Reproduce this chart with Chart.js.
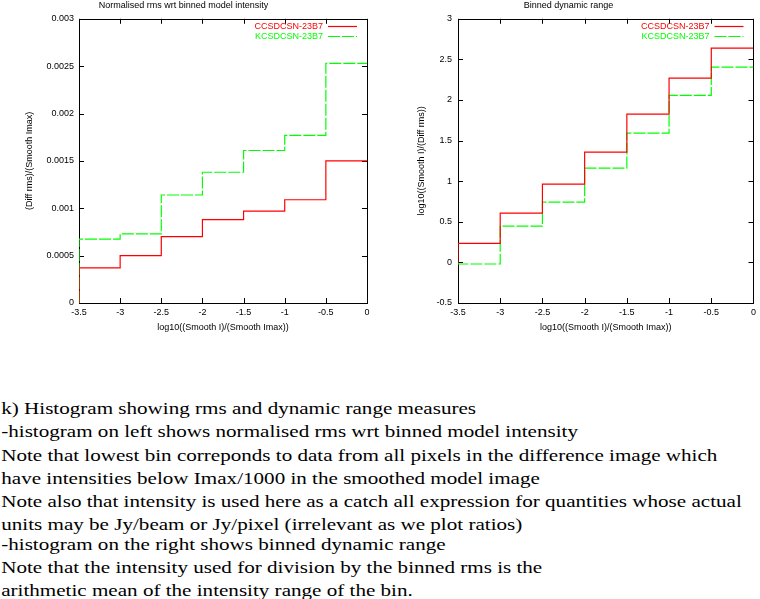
<!DOCTYPE html>
<html>
<head>
<meta charset="utf-8">
<script src="https://cdn.jsdelivr.net/npm/chart.js@4"></script>
<style>
  body { margin: 0; background: #fff; width: 760px; height: 599px; overflow: hidden; position: relative; }
  .box { position: absolute; top: 0; width: 380px; height: 340px; }
  #notes { position: absolute; left: 0; top: 0; transform: scaleX(1.24); transform-origin: 0 0; }
  #notes div { position: absolute; left: 1px; font-family: "Liberation Serif", serif; font-size: 17px;
               line-height: 20px; white-space: nowrap; color: #000; }
</style>
</head>
<body>
<div class="box" style="left:0"><canvas id="rmsChart"></canvas></div>
<div class="box" style="left:380px"><canvas id="drChart"></canvas></div>
<div id="notes"></div>
<script>
// bin edges along log10(I/Imax), one value per bin
var binEdges = [-3.5, -3, -2.5, -2, -1.5, -1, -0.5, 0];
var seriesNames = ['CCSDCSN-23B7', 'KCSDCSN-23B7'];

// left: normalised rms
var rmsCCS = [0.00037, 0.0005, 0.0007, 0.00088, 0.00097, 0.00109, 0.0015];
var rmsKCS = [0.000675, 0.00073, 0.00114, 0.00138, 0.00161, 0.00177, 0.00253];

// right: binned dynamic range
var drCCS = [0.235, 0.607, 0.964, 1.358, 1.826, 2.269, 2.638];
var drKCS = [-0.02, 0.447, 0.743, 1.161, 1.592, 2.056, 2.405];

var noteLines = [
  'k) Histogram showing rms and dynamic range measures',
  '-histogram on left shows normalised rms wrt binned model intensity',
  'Note that lowest bin correponds to data from all pixels in the difference image which',
  'have intensities below Imax/1000 in the smoothed model image',
  'Note also that intensity is used here as a catch all expression for quantities whose actual',
  'units may be Jy/beam or Jy/pixel (irrelevant as we plot ratios)',
  '-histogram on the right shows binned dynamic range',
  'Note that the intensity used for division by the binned rms is the',
  'arithmetic mean of the intensity range of the bin.'
];
var noteCentres = [409, 432, 456, 479, 502, 525, 545, 568, 591];

// gnuplot "histeps" style: rise from 0 at the first edge, then one step per bin
function histSteps(values) {
  var pts = [{ x: binEdges[0], y: 0 }];
  for (var i = 0; i < values.length; i++) {
    pts.push({ x: binEdges[i], y: values[i] });
  }
  pts.push({ x: binEdges[binEdges.length - 1], y: values[values.length - 1] });
  return pts;
}

Chart.defaults.color = '#000';
Chart.defaults.font.family = '"Liberation Sans", Arial, sans-serif';
Chart.defaults.font.size = 9;

// box round the plot with inward ticks on all four sides, plus gnuplot-like key
var gnuplotFrame = {
  id: 'gnuplotFrame',
  beforeDatasetsDraw: function(chart) {
    var ctx = chart.ctx, a = chart.chartArea;
    var xs = chart.scales.x, ys = chart.scales.y;
    ctx.save();
    ctx.strokeStyle = '#000';
    ctx.lineWidth = 1;
    ctx.strokeRect(Math.round(a.left) + 0.5, Math.round(a.top) + 0.5,
                   Math.round(a.right - a.left), Math.round(a.bottom - a.top));
    ctx.beginPath();
    xs.ticks.forEach(function(t) {
      var px = Math.round(xs.getPixelForValue(t.value)) + 0.5;
      ctx.moveTo(px, a.bottom); ctx.lineTo(px, a.bottom - 5);
      ctx.moveTo(px, a.top); ctx.lineTo(px, a.top + 5);
    });
    ys.ticks.forEach(function(t) {
      var py = Math.round(ys.getPixelForValue(t.value)) + 0.5;
      ctx.moveTo(a.left, py); ctx.lineTo(a.left + 5, py);
      ctx.moveTo(a.right, py); ctx.lineTo(a.right - 5, py);
    });
    ctx.stroke();
    ctx.restore();
  },
  afterDraw: function(chart) {
    var ctx = chart.ctx, a = chart.chartArea;
    ctx.save();
    ctx.font = '9px "Liberation Sans", Arial, sans-serif';
    ctx.textAlign = 'right';
    ctx.textBaseline = 'middle';
    chart.data.datasets.forEach(function(ds, i) {
      var y = Math.round(a.top + 7 + i * 10) + 0.5;
      ctx.fillStyle = ds.borderColor;
      ctx.fillText(ds.label, a.right - 44, y);
      ctx.strokeStyle = ds.borderColor;
      ctx.lineWidth = ds.borderWidth;
      ctx.setLineDash(ds.borderDash || []);
      ctx.beginPath();
      ctx.moveTo(a.right - 39, y);
      ctx.lineTo(a.right - 10, y);
      ctx.stroke();
    });
    ctx.restore();
  }
};

function makeChart(id, opts) {
  return new Chart(document.getElementById(id).getContext('2d'), {
    type: 'line',
    data: {
      datasets: [
        {
          label: seriesNames[0],
          data: histSteps(opts.red),
          borderColor: '#ff0000',
          borderWidth: 1.2,
          stepped: 'before',
          pointRadius: 0,
          fill: false
        },
        {
          label: seriesNames[1],
          data: histSteps(opts.green),
          borderColor: '#00ff00',
          borderWidth: 1.2,
          borderDash: [12, 2],
          stepped: 'before',
          pointRadius: 0,
          fill: false
        }
      ]
    },
    options: {
      responsive: true,
      maintainAspectRatio: false,
      animation: false,
      layout: { padding: { left: 0, right: opts.padRight, top: 0, bottom: 0 } },
      plugins: {
        legend: { display: false },
        tooltip: { enabled: false },
        title: {
          display: true,
          text: opts.title,
          font: { size: 9, weight: 'normal' },
          padding: { top: 0, bottom: 8 }
        }
      },
      scales: {
        x: {
          type: 'linear',
          min: -3.5,
          max: 0,
          grid: { display: false, drawTicks: false },
          border: { display: false },
          ticks: { stepSize: 0.5, padding: 4, maxRotation: 0,
                   callback: function(v) { return String(v); } },
          title: { display: true, text: 'log10((Smooth I)/(Smooth Imax))',
                   padding: { top: 0, bottom: 7 } },
          afterFit: function(s) { s.height = 37; }
        },
        y: {
          min: opts.yMin,
          max: opts.yMax,
          grid: { display: false, drawTicks: false },
          border: { display: false },
          ticks: { stepSize: opts.yStep, padding: opts.yPad,
                   callback: function(v) { return String(parseFloat(v.toFixed(4))); } },
          title: { display: true, text: opts.yTitle,
                   padding: { top: opts.yTitlePad, bottom: 0 } },
          afterFit: function(s) { s.width = opts.yWidth; }
        }
      }
    },
    plugins: [gnuplotFrame]
  });
}

makeChart('rmsChart', {
  red: rmsCCS, green: rmsKCS,
  title: 'Normalised rms wrt binned model intensity',
  yTitle: '(Diff rms)/(Smooth Imax)',
  yMin: 0, yMax: 0.003, yStep: 0.0005,
  yWidth: 79, yPad: 5, yTitlePad: 24, padRight: 13
});

makeChart('drChart', {
  red: drCCS, green: drKCS,
  title: 'Binned dynamic range',
  yTitle: 'log10((Smooth I)/(Diff rms))',
  yMin: -0.5, yMax: 3, yStep: 0.5,
  yWidth: 78, yPad: 6, yTitlePad: 36, padRight: 3
});

var notes = document.getElementById('notes');
noteLines.forEach(function(line, i) {
  var d = document.createElement('div');
  d.textContent = line;
  d.style.top = (noteCentres[i] - 10) + 'px';
  notes.appendChild(d);
});
</script>
</body>
</html>
